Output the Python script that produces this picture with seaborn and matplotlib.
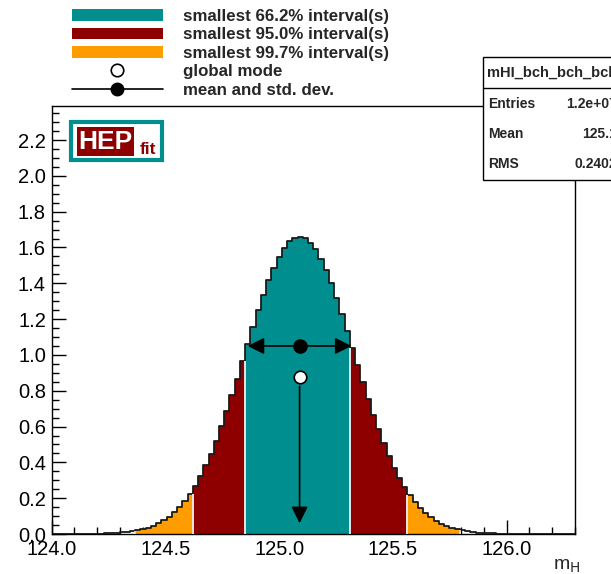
import numpy as np
import pandas as pd
import seaborn as sns
import matplotlib.pyplot as plt
from matplotlib.patches import Rectangle, Patch
from matplotlib.lines import Line2D
from matplotlib.ticker import MultipleLocator, FormatStrFormatter

#%% data: posterior of m_H, 100 bins between 124.0 and 126.3
x_lo, x_hi, n_bins = 124.0, 126.3, 100
density = [
    0.0001, 0.0001, 0.0002, 0.0002, 0.0004, 0.0005, 0.0008, 0.0011, 0.0016, 0.0023,
    0.0032, 0.0045, 0.0063, 0.0086, 0.0116, 0.0157, 0.0209, 0.0277, 0.0361, 0.0469,
    0.0603, 0.0769, 0.0969, 0.1213, 0.1502, 0.1845, 0.2244, 0.2706, 0.3236, 0.3830,
    0.4486, 0.5217, 0.6008, 0.6858, 0.7749, 0.8682, 0.9642, 1.0607, 1.1554, 1.2481,
    1.3359, 1.4168, 1.4879, 1.5494, 1.5984, 1.6339, 1.6549, 1.6610, 1.6517, 1.6275,
    1.5894, 1.5376, 1.4738, 1.3997, 1.3182, 1.2291, 1.1356, 1.0396, 0.9441, 0.8486,
    0.7558, 0.6669, 0.5838, 0.5059, 0.4344, 0.3694, 0.3119, 0.2604, 0.2154, 0.1767,
    0.1438, 0.1158, 0.0923, 0.0730, 0.0573, 0.0445, 0.0342, 0.0260, 0.0197, 0.0147,
    0.0109, 0.0080, 0.0058, 0.0042, 0.0030, 0.0021, 0.0015, 0.0010, 0.0007, 0.0005,
    0.0003, 0.0002, 0.0001, 0.0001, 0.0, 0.0, 0.0, 0.0, 0.0, 0.0,
]
# bin index ranges [start, stop) of the smallest intervals
interval_66 = [(37, 57)]
interval_95 = [(27, 37), (57, 68)]
interval_997 = [(16, 27), (68, 78)]

mean_mh = 125.09
rms_mh = 0.2402
mode_mh = 125.09

legend_labels = [
    "smallest 66.2% interval(s)",
    "smallest 95.0% interval(s)",
    "smallest 99.7% interval(s)",
    "global mode",
    "mean and std. dev.",
]
stats_name = "mHI_bch_bch_bch"
stats_rows = [("Entries", "1.2e+07"), ("Mean", "125.1"), ("RMS", "0.2402")]

TEAL = "#008E8E"
DARKRED = "#8E0000"
ORANGE = "#FF9C00"

#%% build table
edges = [float(e) for e in np.linspace(x_lo, x_hi, n_bins + 1)]
centers = [0.5 * (edges[i] + edges[i + 1]) for i in range(n_bins)]
region = ["none"] * n_bins
for name, ranges in [("99.7", interval_997), ("95.0", interval_95), ("66.2", interval_66)]:
    for a, b in ranges:
        for i in range(a, b):
            region[i] = name
df = pd.DataFrame({"mH": centers, "density": density, "region": region})

#%% figure
W, H = 611, 574
fx = lambda x: x / W
fy = lambda y: 1 - y / H

sns.set_style("ticks")
plt.rcParams["font.family"] = ["Liberation Sans", "DejaVu Sans"]

fig = plt.figure(figsize=(W / 100, H / 100), dpi=100)
ax = fig.add_axes([fx(51.5), fy(534), (575 - 51.5) / W, (534 - 106) / H])

sns.histplot(
    data=df[df.region != "none"],
    x="mH",
    weights="density",
    hue="region",
    hue_order=["99.7", "95.0", "66.2"],
    palette=[ORANGE, DARKRED, TEAL],
    bins=edges,
    element="step",
    fill=True,
    alpha=1,
    linewidth=0,
    legend=False,
    ax=ax,
)

# light separators at the interval boundaries
for a, b in interval_66 + interval_95 + interval_997:
    for k in (a, b):
        ax.vlines(edges[k], 0, min(density[k - 1], density[k]), color="#e6e6e6", lw=1.2, zorder=3)

sns.histplot(
    data=df,
    x="mH",
    weights="density",
    bins=edges,
    element="step",
    fill=False,
    color="#1a1a1a",
    linewidth=1.3,
    ax=ax,
)

# mean and std. dev.
y_mean = 1.05
for end in (mean_mh - rms_mh, mean_mh + rms_mh):
    ax.annotate(
        "", xy=(end, y_mean), xytext=(mean_mh, y_mean),
        arrowprops=dict(arrowstyle="-|>,head_length=1.0,head_width=0.5", color="black", lw=1.2),
        zorder=6,
    )
ax.plot([mean_mh], [y_mean], "o", color="black", markersize=9.5, zorder=7)

# global mode
y_mode = 0.875
ax.annotate(
    "", xy=(mode_mh, 0.045), xytext=(mode_mh, y_mode - 0.035),
    arrowprops=dict(arrowstyle="-|>,head_length=1.0,head_width=0.5", color="black", lw=1.2),
    zorder=6,
)
ax.plot([mode_mh], [y_mode], "o", mfc="white", mec="black", mew=1.2, markersize=9, zorder=7)

ax.set_xlim(x_lo, x_hi)
ax.set_ylim(0, 2.39)
ax.xaxis.set_major_locator(MultipleLocator(0.5))
ax.xaxis.set_minor_locator(MultipleLocator(0.1))
ax.yaxis.set_major_locator(MultipleLocator(0.2))
ax.yaxis.set_minor_locator(MultipleLocator(0.05))
ax.xaxis.set_major_formatter(FormatStrFormatter("%.1f"))
ax.yaxis.set_major_formatter(FormatStrFormatter("%.1f"))
ax.tick_params(which="both", direction="in", top=False, right=False, colors="black", width=1, labelsize=14.5)
ax.tick_params(which="major", length=10, pad=4)
ax.tick_params(which="minor", length=5)
ax.set_xlabel("")
ax.set_ylabel("")
for s in ax.spines.values():
    s.set_visible(True)
    s.set_color("black")
    s.set_linewidth(1)

fig.text(fx(580), fy(566), r"m$_{\mathrm{H}}$", ha="right", va="center", fontsize=14)

#%% legend above the frame
handles = [
    Patch(facecolor=TEAL, edgecolor="none"),
    Patch(facecolor=DARKRED, edgecolor="none"),
    Patch(facecolor=ORANGE, edgecolor="none"),
    Line2D([], [], ls="none", marker="o", mfc="white", mec="black", mew=1.2, markersize=9),
    Line2D([], [], color="black", lw=1.2, marker="o", markersize=9),
]
fig.legend(
    handles, legend_labels,
    loc="upper left", bbox_to_anchor=(fx(72), fy(9)),
    frameon=False, prop=dict(weight="bold", size=12.2),
    handlelength=5.35, handleheight=0.7, labelspacing=0.2,
    handletextpad=1.2, borderpad=0, borderaxespad=0,
)

#%% stats box (runs off the right edge)
fig.add_artist(Rectangle((fx(483), fy(180)), (660 - 483) / W, (180 - 57) / H,
                         transform=fig.transFigure, fc="white", ec="black", lw=1, zorder=5))
fig.add_artist(Line2D([fx(483), 1.1], [fy(88), fy(88)], transform=fig.transFigure,
                      color="black", lw=1, zorder=6))
fig.text(fx(487), fy(73), stats_name, ha="left", va="center", fontsize=10.5, weight="bold", zorder=7)
for k, (name, val) in enumerate(stats_rows):
    yy = fy(103.5 + 30.5 * k)
    fig.text(fx(488), yy, name, ha="left", va="center", fontsize=10, weight="bold", zorder=7)
    fig.text(fx(617), yy, val, ha="right", va="center", fontsize=10, weight="bold", zorder=7)

#%% HEPfit logo
fig.add_artist(Rectangle((fx(71), fy(160)), 91 / W, 38 / H, transform=fig.transFigure,
                         fc="white", ec=TEAL, lw=3, zorder=5))
fig.add_artist(Rectangle((fx(77), fy(156)), 57 / W, 29 / H, transform=fig.transFigure,
                         fc=DARKRED, ec="none", zorder=6))
fig.text(fx(105.5), fy(142), "HEP", ha="center", va="center", color="white",
         fontsize=19, weight="bold", zorder=7)
fig.text(fx(148.5), fy(149), "fit", ha="center", va="center", color=DARKRED,
         fontsize=12.5, weight="bold", zorder=7)

fig.savefig("out.png", dpi=100)
